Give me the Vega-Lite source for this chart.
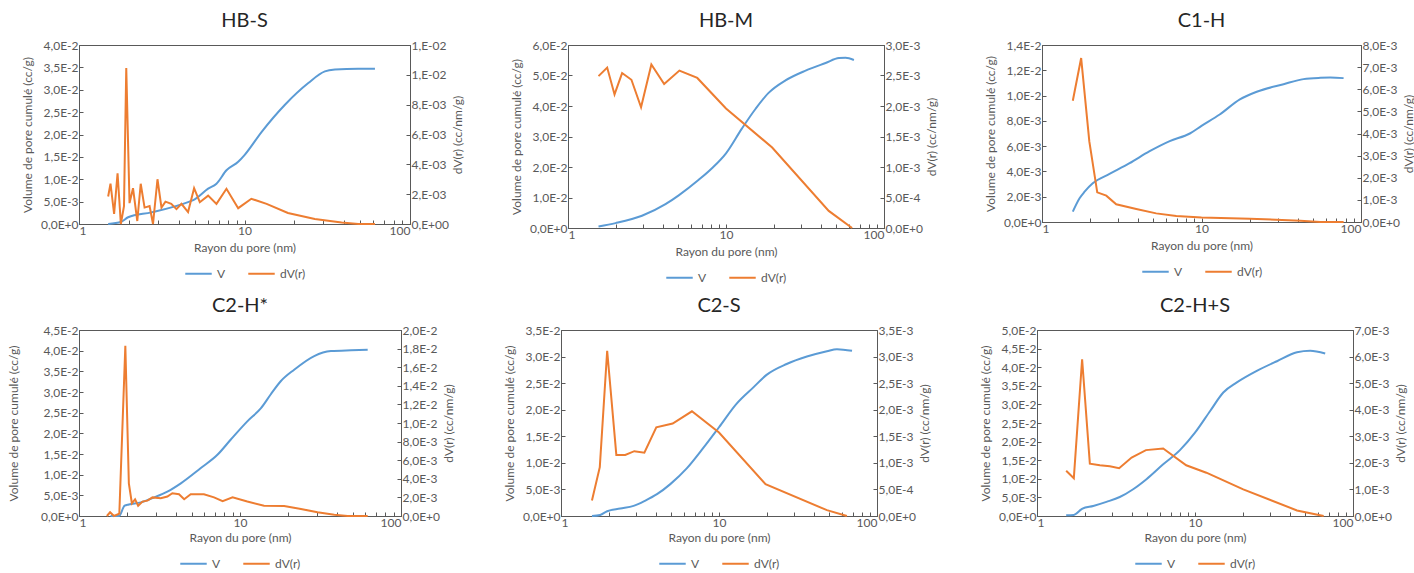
{
  "$schema": "https://vega.github.io/schema/vega-lite/v6.json",
  "background": "white",
  "padding": {"left": 6, "top": 10, "right": 0, "bottom": 2},
  "datasets": {
    "d": [
      {"p":"HB-S","k":"V","r":1.5,"y":0},{"p":"HB-S","k":"V","r":1.8,"y":0.0005},{"p":"HB-S","k":"V","r":1.98,"y":0.0015},{"p":"HB-S","k":"V","r":2.74,"y":0.0026},{"p":"HB-S","k":"V","r":4.56,"y":0.0049},{"p":"HB-S","k":"V","r":5.0,"y":0.0055},{"p":"HB-S","k":"V","r":6.03,"y":0.0079},{"p":"HB-S","k":"V","r":6.77,"y":0.009},{"p":"HB-S","k":"V","r":7.78,"y":0.012},{"p":"HB-S","k":"V","r":9.16,"y":0.0139},{"p":"HB-S","k":"V","r":10,"y":0.0154},{"p":"HB-S","k":"V","r":12.7,"y":0.0206},{"p":"HB-S","k":"V","r":17.5,"y":0.0266},{"p":"HB-S","k":"V","r":24.3,"y":0.0315},{"p":"HB-S","k":"V","r":30.6,"y":0.0341},{"p":"HB-S","k":"V","r":35.2,"y":0.0345},{"p":"HB-S","k":"V","r":48.7,"y":0.0347},{"p":"HB-S","k":"V","r":61.4,"y":0.0347},
      {"p":"HB-S","k":"dV(r)","r":1.5,"y":0.00184},{"p":"HB-S","k":"dV(r)","r":1.55,"y":0.0027},{"p":"HB-S","k":"dV(r)","r":1.63,"y":0.00067},{"p":"HB-S","k":"dV(r)","r":1.71,"y":0.0034},{"p":"HB-S","k":"dV(r)","r":1.79,"y":0},{"p":"HB-S","k":"dV(r)","r":1.87,"y":0.0012},{"p":"HB-S","k":"dV(r)","r":1.93,"y":0.01045},{"p":"HB-S","k":"dV(r)","r":2.02,"y":0.0014},{"p":"HB-S","k":"dV(r)","r":2.12,"y":0.0024},{"p":"HB-S","k":"dV(r)","r":2.25,"y":0.0002},{"p":"HB-S","k":"dV(r)","r":2.36,"y":0.0027},{"p":"HB-S","k":"dV(r)","r":2.49,"y":0.0011},{"p":"HB-S","k":"dV(r)","r":2.67,"y":0.0012},{"p":"HB-S","k":"dV(r)","r":2.8,"y":0},{"p":"HB-S","k":"dV(r)","r":2.98,"y":0.003},{"p":"HB-S","k":"dV(r)","r":3.15,"y":0.0011},{"p":"HB-S","k":"dV(r)","r":3.33,"y":0.0015},{"p":"HB-S","k":"dV(r)","r":3.61,"y":0.00135},{"p":"HB-S","k":"dV(r)","r":3.88,"y":0.001},{"p":"HB-S","k":"dV(r)","r":4.16,"y":0.00135},{"p":"HB-S","k":"dV(r)","r":4.56,"y":0.0008},{"p":"HB-S","k":"dV(r)","r":4.96,"y":0.0024},{"p":"HB-S","k":"dV(r)","r":5.37,"y":0.00146},{"p":"HB-S","k":"dV(r)","r":6.03,"y":0.0019},{"p":"HB-S","k":"dV(r)","r":6.77,"y":0.00135},{"p":"HB-S","k":"dV(r)","r":7.78,"y":0.00236},{"p":"HB-S","k":"dV(r)","r":9.16,"y":0.00106},{"p":"HB-S","k":"dV(r)","r":11.0,"y":0.00169},{"p":"HB-S","k":"dV(r)","r":13.6,"y":0.00135},{"p":"HB-S","k":"dV(r)","r":18.3,"y":0.00074},{"p":"HB-S","k":"dV(r)","r":26.6,"y":0.00034},{"p":"HB-S","k":"dV(r)","r":38.6,"y":0.0001},{"p":"HB-S","k":"dV(r)","r":48.7,"y":0},{"p":"HB-S","k":"dV(r)","r":61.4,"y":0},

      {"p":"HB-M","k":"V","r":1.56,"y":0.0005},{"p":"HB-M","k":"V","r":2.0,"y":0.0016},{"p":"HB-M","k":"V","r":2.94,"y":0.004},{"p":"HB-M","k":"V","r":4.14,"y":0.0078},{"p":"HB-M","k":"V","r":5.02,"y":0.0107},{"p":"HB-M","k":"V","r":6.72,"y":0.0158},{"p":"HB-M","k":"V","r":8.15,"y":0.0196},{"p":"HB-M","k":"V","r":10,"y":0.0245},{"p":"HB-M","k":"V","r":12.6,"y":0.0326},{"p":"HB-M","k":"V","r":15.4,"y":0.0391},{"p":"HB-M","k":"V","r":18.6,"y":0.0443},{"p":"HB-M","k":"V","r":23.8,"y":0.0484},{"p":"HB-M","k":"V","r":31.9,"y":0.0516},{"p":"HB-M","k":"V","r":42.7,"y":0.0541},{"p":"HB-M","k":"V","r":51.9,"y":0.0557},{"p":"HB-M","k":"V","r":57.1,"y":0.0558},{"p":"HB-M","k":"V","r":64.5,"y":0.0551},
      {"p":"HB-M","k":"dV(r)","r":1.56,"y":0.00249},{"p":"HB-M","k":"dV(r)","r":1.77,"y":0.00263},{"p":"HB-M","k":"dV(r)","r":1.97,"y":0.00219},{"p":"HB-M","k":"dV(r)","r":2.2,"y":0.00254},{"p":"HB-M","k":"dV(r)","r":2.52,"y":0.00243},{"p":"HB-M","k":"dV(r)","r":2.9,"y":0.00198},{"p":"HB-M","k":"dV(r)","r":3.37,"y":0.00268},{"p":"HB-M","k":"dV(r)","r":4.06,"y":0.00236},{"p":"HB-M","k":"dV(r)","r":5.07,"y":0.00258},{"p":"HB-M","k":"dV(r)","r":6.58,"y":0.00246},{"p":"HB-M","k":"dV(r)","r":10,"y":0.00196},{"p":"HB-M","k":"dV(r)","r":19.6,"y":0.00132},{"p":"HB-M","k":"dV(r)","r":44.7,"y":0.00028},{"p":"HB-M","k":"dV(r)","r":62.8,"y":0},

      {"p":"C1-H","k":"V","r":1.56,"y":0.00082},{"p":"C1-H","k":"V","r":1.72,"y":0.00188},{"p":"C1-H","k":"V","r":1.85,"y":0.0024},{"p":"C1-H","k":"V","r":2.08,"y":0.00306},{"p":"C1-H","k":"V","r":2.65,"y":0.0038},{"p":"C1-H","k":"V","r":3.54,"y":0.00465},{"p":"C1-H","k":"V","r":4.73,"y":0.0056},{"p":"C1-H","k":"V","r":6.32,"y":0.0064},{"p":"C1-H","k":"V","r":8.45,"y":0.007},{"p":"C1-H","k":"V","r":10,"y":0.0076},{"p":"C1-H","k":"V","r":13.0,"y":0.0085},{"p":"C1-H","k":"V","r":17.4,"y":0.0097},{"p":"C1-H","k":"V","r":22.2,"y":0.0103},{"p":"C1-H","k":"V","r":32.7,"y":0.0109},{"p":"C1-H","k":"V","r":43.6,"y":0.0113},{"p":"C1-H","k":"V","r":55.5,"y":0.0114},{"p":"C1-H","k":"V","r":64.1,"y":0.01142},{"p":"C1-H","k":"V","r":77.8,"y":0.01138},
      {"p":"C1-H","k":"dV(r)","r":1.56,"y":0.00548},{"p":"C1-H","k":"dV(r)","r":1.76,"y":0.00741},{"p":"C1-H","k":"dV(r)","r":1.98,"y":0.00364},{"p":"C1-H","k":"dV(r)","r":2.22,"y":0.00134},{"p":"C1-H","k":"dV(r)","r":2.53,"y":0.00119},{"p":"C1-H","k":"dV(r)","r":2.92,"y":0.0008},{"p":"C1-H","k":"dV(r)","r":3.9,"y":0.00059},{"p":"C1-H","k":"dV(r)","r":5.2,"y":0.00039},{"p":"C1-H","k":"dV(r)","r":6.95,"y":0.00027},{"p":"C1-H","k":"dV(r)","r":10,"y":0.0002},{"p":"C1-H","k":"dV(r)","r":20.1,"y":0.00015},{"p":"C1-H","k":"dV(r)","r":41.6,"y":0.00006},{"p":"C1-H","k":"dV(r)","r":55.5,"y":0},{"p":"C1-H","k":"dV(r)","r":77.8,"y":0},

      {"p":"C2-H*","k":"V","r":1.57,"y":0},{"p":"C2-H*","k":"V","r":1.77,"y":0},{"p":"C2-H*","k":"V","r":1.92,"y":0.0025},{"p":"C2-H*","k":"V","r":2.04,"y":0.0028},{"p":"C2-H*","k":"V","r":2.42,"y":0.0033},{"p":"C2-H*","k":"V","r":2.93,"y":0.0045},{"p":"C2-H*","k":"V","r":3.54,"y":0.0059},{"p":"C2-H*","k":"V","r":4.29,"y":0.0079},{"p":"C2-H*","k":"V","r":5.71,"y":0.0116},{"p":"C2-H*","k":"V","r":7.24,"y":0.0148},{"p":"C2-H*","k":"V","r":8.77,"y":0.0185},{"p":"C2-H*","k":"V","r":11.1,"y":0.0229},{"p":"C2-H*","k":"V","r":13.5,"y":0.0261},{"p":"C2-H*","k":"V","r":15.5,"y":0.0294},{"p":"C2-H*","k":"V","r":17.9,"y":0.0326},{"p":"C2-H*","k":"V","r":21.7,"y":0.0354},{"p":"C2-H*","k":"V","r":28.9,"y":0.0387},{"p":"C2-H*","k":"V","r":36.7,"y":0.0399},{"p":"C2-H*","k":"V","r":48.9,"y":0.0401},{"p":"C2-H*","k":"V","r":62.1,"y":0.0402},
      {"p":"C2-H*","k":"dV(r)","r":1.49,"y":0},{"p":"C2-H*","k":"dV(r)","r":1.56,"y":0.0004},{"p":"C2-H*","k":"dV(r)","r":1.65,"y":0},{"p":"C2-H*","k":"dV(r)","r":1.78,"y":0.00025},{"p":"C2-H*","k":"dV(r)","r":1.94,"y":0.0183},{"p":"C2-H*","k":"dV(r)","r":2.04,"y":0.0035},{"p":"C2-H*","k":"dV(r)","r":2.13,"y":0.00137},{"p":"C2-H*","k":"dV(r)","r":2.23,"y":0.0018},{"p":"C2-H*","k":"dV(r)","r":2.33,"y":0.0011},{"p":"C2-H*","k":"dV(r)","r":2.48,"y":0.00155},{"p":"C2-H*","k":"dV(r)","r":2.66,"y":0.00165},{"p":"C2-H*","k":"dV(r)","r":2.86,"y":0.002},{"p":"C2-H*","k":"dV(r)","r":3.22,"y":0.0019},{"p":"C2-H*","k":"dV(r)","r":3.54,"y":0.0021},{"p":"C2-H*","k":"dV(r)","r":3.8,"y":0.00245},{"p":"C2-H*","k":"dV(r)","r":4.18,"y":0.00234},{"p":"C2-H*","k":"dV(r)","r":4.5,"y":0.0018},{"p":"C2-H*","k":"dV(r)","r":4.94,"y":0.00234},{"p":"C2-H*","k":"dV(r)","r":5.97,"y":0.00234},{"p":"C2-H*","k":"dV(r)","r":6.9,"y":0.002},{"p":"C2-H*","k":"dV(r)","r":7.8,"y":0.0016},{"p":"C2-H*","k":"dV(r)","r":8.99,"y":0.002},{"p":"C2-H*","k":"dV(r)","r":11.1,"y":0.00155},{"p":"C2-H*","k":"dV(r)","r":14.1,"y":0.0011},{"p":"C2-H*","k":"dV(r)","r":18.8,"y":0.00108},{"p":"C2-H*","k":"dV(r)","r":23.9,"y":0.00076},{"p":"C2-H*","k":"dV(r)","r":30.3,"y":0.0004},{"p":"C2-H*","k":"dV(r)","r":38.5,"y":0.00014},{"p":"C2-H*","k":"dV(r)","r":46.6,"y":0},{"p":"C2-H*","k":"dV(r)","r":62.1,"y":0},

      {"p":"C2-S","k":"V","r":1.57,"y":0},{"p":"C2-S","k":"V","r":1.77,"y":0.0002},{"p":"C2-S","k":"V","r":1.96,"y":0.0009},{"p":"C2-S","k":"V","r":2.37,"y":0.0014},{"p":"C2-S","k":"V","r":2.88,"y":0.0019},{"p":"C2-S","k":"V","r":3.42,"y":0.0029},{"p":"C2-S","k":"V","r":4.05,"y":0.0041},{"p":"C2-S","k":"V","r":4.92,"y":0.006},{"p":"C2-S","k":"V","r":6.27,"y":0.009},{"p":"C2-S","k":"V","r":8.0,"y":0.0129},{"p":"C2-S","k":"V","r":10,"y":0.0167},{"p":"C2-S","k":"V","r":12.9,"y":0.0211},{"p":"C2-S","k":"V","r":16.5,"y":0.0242},{"p":"C2-S","k":"V","r":20.1,"y":0.0266},{"p":"C2-S","k":"V","r":26.8,"y":0.0286},{"p":"C2-S","k":"V","r":36.0,"y":0.03},{"p":"C2-S","k":"V","r":48.2,"y":0.031},{"p":"C2-S","k":"V","r":55.8,"y":0.0314},{"p":"C2-S","k":"V","r":69.5,"y":0.0311},
      {"p":"C2-S","k":"dV(r)","r":1.57,"y":0.00029},{"p":"C2-S","k":"dV(r)","r":1.76,"y":0.00092},{"p":"C2-S","k":"dV(r)","r":1.96,"y":0.00311},{"p":"C2-S","k":"dV(r)","r":2.24,"y":0.00115},{"p":"C2-S","k":"dV(r)","r":2.55,"y":0.00115},{"p":"C2-S","k":"dV(r)","r":2.91,"y":0.00122},{"p":"C2-S","k":"dV(r)","r":3.37,"y":0.00119},{"p":"C2-S","k":"dV(r)","r":4.01,"y":0.00167},{"p":"C2-S","k":"dV(r)","r":5.09,"y":0.00174},{"p":"C2-S","k":"dV(r)","r":6.74,"y":0.00197},{"p":"C2-S","k":"dV(r)","r":10,"y":0.00157},{"p":"C2-S","k":"dV(r)","r":19.7,"y":0.0006},{"p":"C2-S","k":"dV(r)","r":48.2,"y":0.00011},{"p":"C2-S","k":"dV(r)","r":64.5,"y":0},

      {"p":"C2-H+S","k":"V","r":1.53,"y":0.0002},{"p":"C2-H+S","k":"V","r":1.71,"y":0.0003},{"p":"C2-H+S","k":"V","r":1.94,"y":0.002},{"p":"C2-H+S","k":"V","r":2.27,"y":0.0027},{"p":"C2-H+S","k":"V","r":2.75,"y":0.0038},{"p":"C2-H+S","k":"V","r":3.34,"y":0.0051},{"p":"C2-H+S","k":"V","r":4.06,"y":0.0072},{"p":"C2-H+S","k":"V","r":4.93,"y":0.0099},{"p":"C2-H+S","k":"V","r":6.29,"y":0.0139},{"p":"C2-H+S","k":"V","r":8.03,"y":0.0177},{"p":"C2-H+S","k":"V","r":10,"y":0.0224},{"p":"C2-H+S","k":"V","r":12.5,"y":0.0283},{"p":"C2-H+S","k":"V","r":15.1,"y":0.0332},{"p":"C2-H+S","k":"V","r":18.4,"y":0.0359},{"p":"C2-H+S","k":"V","r":24.6,"y":0.039},{"p":"C2-H+S","k":"V","r":33.0,"y":0.0416},{"p":"C2-H+S","k":"V","r":44.2,"y":0.044},{"p":"C2-H+S","k":"V","r":53.6,"y":0.0444},{"p":"C2-H+S","k":"V","r":66.7,"y":0.0437},
      {"p":"C2-H+S","k":"dV(r)","r":1.53,"y":0.0017},{"p":"C2-H+S","k":"dV(r)","r":1.71,"y":0.00142},{"p":"C2-H+S","k":"dV(r)","r":1.93,"y":0.0059},{"p":"C2-H+S","k":"dV(r)","r":2.16,"y":0.00197},{"p":"C2-H+S","k":"dV(r)","r":2.5,"y":0.00191},{"p":"C2-H+S","k":"dV(r)","r":2.89,"y":0.00187},{"p":"C2-H+S","k":"dV(r)","r":3.31,"y":0.0018},{"p":"C2-H+S","k":"dV(r)","r":3.97,"y":0.0022},{"p":"C2-H+S","k":"dV(r)","r":4.89,"y":0.00248},{"p":"C2-H+S","k":"dV(r)","r":6.29,"y":0.00254},{"p":"C2-H+S","k":"dV(r)","r":8.8,"y":0.00191},{"p":"C2-H+S","k":"dV(r)","r":11.8,"y":0.00163},{"p":"C2-H+S","k":"dV(r)","r":20.2,"y":0.001},{"p":"C2-H+S","k":"dV(r)","r":44.2,"y":0.00021},{"p":"C2-H+S","k":"dV(r)","r":65.2,"y":0}
    ]
  },
  "data": {"name": "d"},
  "vconcat": [
    {
      "hconcat": [
        {
          "title": {"text": "HB-S"},
          "width": 331, "height": 179,
          "layer": [
            {"transform": [{"filter": "datum.p=='HB-S' && datum.k=='V'"}], "mark": {"type": "line", "interpolate": "monotone", "strokeWidth": 2},
             "encoding": {"x": {"field": "r", "type": "quantitative", "scale": {"type": "log", "domain": [1, 100]}, "axis": {"title": "Rayon du pore (nm)", "values": [1,2,3,4,5,6,7,8,9,10,20,30,40,50,60,70,80,90,100], "labelExpr": "indexof([1,10,100], datum.value) >= 0 ? toString(datum.value) : ''"}},
              "y": {"field": "y", "type": "quantitative", "scale": {"domain": [0, 0.04]}, "axis": {"orient": "left", "title": "Volume de pore cumulé (cc/g)", "values": [0,0.005,0.01,0.015,0.02,0.025,0.03,0.035,0.04], "labelExpr": "replace(replace(format(datum.value,'.1e'),'.',','),'e','E')"}},
              "color": {"field": "k", "type": "nominal", "scale": {"domain": ["V", "dV(r)"], "range": ["#5B9BD5", "#ED7D31"]}, "legend": {"orient": "bottom", "title": null}}}},
            {"transform": [{"filter": "datum.p=='HB-S' && datum.k=='dV(r)'"}], "mark": {"type": "line", "strokeWidth": 2},
             "encoding": {"x": {"field": "r", "type": "quantitative"},
              "y": {"field": "y", "type": "quantitative", "scale": {"domain": [0, 0.012]}, "axis": {"orient": "right", "titleAngle": 270, "titleBaseline": "top", "titlePadding": 4, "title": "dV(r) (cc/nm/g)", "values": [0,0.002,0.004,0.006,0.008,0.01,0.012], "labelExpr": "replace(replace(replace(format(datum.value,'.0e'),'e-','e-0'),'e+','e+0'),'e',',E')"}},
              "color": {"field": "k", "type": "nominal"}}}
          ],
          "resolve": {"scale": {"y": "independent"}}
        },
        {
          "title": {"text": "HB-M"},
          "width": 316, "height": 183,
          "layer": [
            {"transform": [{"filter": "datum.p=='HB-M' && datum.k=='V'"}], "mark": {"type": "line", "interpolate": "monotone", "strokeWidth": 2},
             "encoding": {"x": {"field": "r", "type": "quantitative", "scale": {"type": "log", "domain": [1, 100]}, "axis": {"title": "Rayon du pore (nm)", "values": [1,2,3,4,5,6,7,8,9,10,20,30,40,50,60,70,80,90,100], "labelExpr": "indexof([1,10,100], datum.value) >= 0 ? toString(datum.value) : ''"}},
              "y": {"field": "y", "type": "quantitative", "scale": {"domain": [0, 0.06]}, "axis": {"orient": "left", "title": "Volume de pore cumulé (cc/g)", "values": [0,0.01,0.02,0.03,0.04,0.05,0.06], "labelExpr": "replace(replace(format(datum.value,'.1e'),'.',','),'e','E')"}},
              "color": {"field": "k", "type": "nominal", "scale": {"domain": ["V", "dV(r)"], "range": ["#5B9BD5", "#ED7D31"]}, "legend": {"orient": "bottom", "title": null}}}},
            {"transform": [{"filter": "datum.p=='HB-M' && datum.k=='dV(r)'"}], "mark": {"type": "line", "strokeWidth": 2},
             "encoding": {"x": {"field": "r", "type": "quantitative"},
              "y": {"field": "y", "type": "quantitative", "scale": {"domain": [0, 0.003]}, "axis": {"orient": "right", "titleAngle": 270, "titleBaseline": "top", "titlePadding": 4, "title": "dV(r) (cc/nm/g)", "values": [0,0.0005,0.001,0.0015,0.002,0.0025,0.003], "labelExpr": "replace(replace(format(datum.value,'.1e'),'.',','),'e','E')"}},
              "color": {"field": "k", "type": "nominal"}}}
          ],
          "resolve": {"scale": {"y": "independent"}}
        },
        {
          "title": {"text": "C1-H"},
          "width": 319, "height": 177,
          "layer": [
            {"transform": [{"filter": "datum.p=='C1-H' && datum.k=='V'"}], "mark": {"type": "line", "interpolate": "monotone", "strokeWidth": 2},
             "encoding": {"x": {"field": "r", "type": "quantitative", "scale": {"type": "log", "domain": [1, 100]}, "axis": {"title": "Rayon du pore (nm)", "values": [1,2,3,4,5,6,7,8,9,10,20,30,40,50,60,70,80,90,100], "labelExpr": "indexof([1,10,100], datum.value) >= 0 ? toString(datum.value) : ''"}},
              "y": {"field": "y", "type": "quantitative", "scale": {"domain": [0, 0.014]}, "axis": {"orient": "left", "title": "Volume de pore cumulé (cc/g)", "values": [0,0.002,0.004,0.006,0.008,0.01,0.012,0.014], "labelExpr": "replace(replace(format(datum.value,'.1e'),'.',','),'e','E')"}},
              "color": {"field": "k", "type": "nominal", "scale": {"domain": ["V", "dV(r)"], "range": ["#5B9BD5", "#ED7D31"]}, "legend": {"orient": "bottom", "title": null}}}},
            {"transform": [{"filter": "datum.p=='C1-H' && datum.k=='dV(r)'"}], "mark": {"type": "line", "strokeWidth": 2},
             "encoding": {"x": {"field": "r", "type": "quantitative"},
              "y": {"field": "y", "type": "quantitative", "scale": {"domain": [0, 0.008]}, "axis": {"orient": "right", "titleAngle": 270, "titleBaseline": "top", "titlePadding": 4, "title": "dV(r) (cc/nm/g)", "values": [0,0.001,0.002,0.003,0.004,0.005,0.006,0.007,0.008], "labelExpr": "replace(replace(format(datum.value,'.1e'),'.',','),'e','E')"}},
              "color": {"field": "k", "type": "nominal"}}}
          ],
          "resolve": {"scale": {"y": "independent"}}
        }
      ],
      "spacing": 46,
      "resolve": {"legend": {"color": "independent"}}
    },
    {
      "hconcat": [
        {
          "title": {"text": "C2-H*"},
          "width": 322, "height": 186,
          "layer": [
            {"transform": [{"filter": "datum.p=='C2-H*' && datum.k=='V'"}], "mark": {"type": "line", "interpolate": "monotone", "strokeWidth": 2},
             "encoding": {"x": {"field": "r", "type": "quantitative", "scale": {"type": "log", "domain": [1, 100]}, "axis": {"title": "Rayon du pore (nm)", "titlePadding": 4, "values": [1,2,3,4,5,6,7,8,9,10,20,30,40,50,60,70,80,90,100], "labelExpr": "indexof([1,10,100], datum.value) >= 0 ? toString(datum.value) : ''"}},
              "y": {"field": "y", "type": "quantitative", "scale": {"domain": [0, 0.045]}, "axis": {"orient": "left", "minExtent": 53, "title": "Volume de pore cumulé (cc/g)", "values": [0,0.005,0.01,0.015,0.02,0.025,0.03,0.035,0.04,0.045], "labelExpr": "replace(replace(format(datum.value,'.1e'),'.',','),'e','E')"}},
              "color": {"field": "k", "type": "nominal", "scale": {"domain": ["V", "dV(r)"], "range": ["#5B9BD5", "#ED7D31"]}, "legend": {"orient": "bottom", "title": null}}}},
            {"transform": [{"filter": "datum.p=='C2-H*' && datum.k=='dV(r)'"}], "mark": {"type": "line", "strokeWidth": 2},
             "encoding": {"x": {"field": "r", "type": "quantitative"},
              "y": {"field": "y", "type": "quantitative", "scale": {"domain": [0, 0.02]}, "axis": {"orient": "right", "titleAngle": 270, "titleBaseline": "top", "titlePadding": 4, "title": "dV(r) (cc/nm/g)", "values": [0,0.002,0.004,0.006,0.008,0.01,0.012,0.014,0.016,0.018,0.02], "labelExpr": "replace(replace(format(datum.value,'.1e'),'.',','),'e','E')"}},
              "color": {"field": "k", "type": "nominal"}}}
          ],
          "resolve": {"scale": {"y": "independent"}}
        },
        {
          "title": {"text": "C2-S"},
          "width": 316, "height": 186,
          "layer": [
            {"transform": [{"filter": "datum.p=='C2-S' && datum.k=='V'"}], "mark": {"type": "line", "interpolate": "monotone", "strokeWidth": 2},
             "encoding": {"x": {"field": "r", "type": "quantitative", "scale": {"type": "log", "domain": [1, 100]}, "axis": {"title": "Rayon du pore (nm)", "titlePadding": 4, "values": [1,2,3,4,5,6,7,8,9,10,20,30,40,50,60,70,80,90,100], "labelExpr": "indexof([1,10,100], datum.value) >= 0 ? toString(datum.value) : ''"}},
              "y": {"field": "y", "type": "quantitative", "scale": {"domain": [0, 0.035]}, "axis": {"orient": "left", "title": "Volume de pore cumulé (cc/g)", "values": [0,0.005,0.01,0.015,0.02,0.025,0.03,0.035], "labelExpr": "replace(replace(format(datum.value,'.1e'),'.',','),'e','E')"}},
              "color": {"field": "k", "type": "nominal", "scale": {"domain": ["V", "dV(r)"], "range": ["#5B9BD5", "#ED7D31"]}, "legend": {"orient": "bottom", "title": null}}}},
            {"transform": [{"filter": "datum.p=='C2-S' && datum.k=='dV(r)'"}], "mark": {"type": "line", "strokeWidth": 2},
             "encoding": {"x": {"field": "r", "type": "quantitative"},
              "y": {"field": "y", "type": "quantitative", "scale": {"domain": [0, 0.0035]}, "axis": {"orient": "right", "titleAngle": 270, "titleBaseline": "top", "titlePadding": 4, "title": "dV(r) (cc/nm/g)", "values": [0,0.0005,0.001,0.0015,0.002,0.0025,0.003,0.0035], "labelExpr": "replace(replace(format(datum.value,'.1e'),'.',','),'e','E')"}},
              "color": {"field": "k", "type": "nominal"}}}
          ],
          "resolve": {"scale": {"y": "independent"}}
        },
        {
          "title": {"text": "C2-H+S"},
          "width": 316, "height": 186,
          "layer": [
            {"transform": [{"filter": "datum.p=='C2-H+S' && datum.k=='V'"}], "mark": {"type": "line", "interpolate": "monotone", "strokeWidth": 2},
             "encoding": {"x": {"field": "r", "type": "quantitative", "scale": {"type": "log", "domain": [1, 100]}, "axis": {"title": "Rayon du pore (nm)", "titlePadding": 4, "values": [1,2,3,4,5,6,7,8,9,10,20,30,40,50,60,70,80,90,100], "labelExpr": "indexof([1,10,100], datum.value) >= 0 ? toString(datum.value) : ''"}},
              "y": {"field": "y", "type": "quantitative", "scale": {"domain": [0, 0.05]}, "axis": {"orient": "left", "title": "Volume de pore cumulé (cc/g)", "values": [0,0.005,0.01,0.015,0.02,0.025,0.03,0.035,0.04,0.045,0.05], "labelExpr": "replace(replace(format(datum.value,'.1e'),'.',','),'e','E')"}},
              "color": {"field": "k", "type": "nominal", "scale": {"domain": ["V", "dV(r)"], "range": ["#5B9BD5", "#ED7D31"]}, "legend": {"orient": "bottom", "title": null}}}},
            {"transform": [{"filter": "datum.p=='C2-H+S' && datum.k=='dV(r)'"}], "mark": {"type": "line", "strokeWidth": 2},
             "encoding": {"x": {"field": "r", "type": "quantitative"},
              "y": {"field": "y", "type": "quantitative", "scale": {"domain": [0, 0.007]}, "axis": {"orient": "right", "titleAngle": 270, "titleBaseline": "top", "titlePadding": 4, "title": "dV(r) (cc/nm/g)", "values": [0,0.001,0.002,0.003,0.004,0.005,0.006,0.007], "labelExpr": "replace(replace(format(datum.value,'.1e'),'.',','),'e','E')"}},
              "color": {"field": "k", "type": "nominal"}}}
          ],
          "resolve": {"scale": {"y": "independent"}}
        }
      ],
      "spacing": 48,
      "resolve": {"legend": {"color": "independent"}}
    }
  ],
  "spacing": 10,
  "resolve": {"legend": {"color": "independent"}},
  "config": {
    "font": "Lato",
    "view": {"stroke": "#595959", "strokeWidth": 1},
    "title": {"fontSize": 20, "fontWeight": "normal", "color": "#262626", "font": "Lato", "frame": "group", "anchor": "middle", "offset": 8},
    "axis": {"grid": false, "labelFont": "Lato", "labelFontSize": 12, "labelColor": "#595959", "titleFont": "Lato", "titleFontSize": 12, "titleColor": "#595959", "titleFontWeight": "normal", "tickColor": "#595959", "domainColor": "#595959", "tickSize": -4, "labelPadding": 5, "titlePadding": 6},
    "legend": {"labelFont": "Lato", "labelFontSize": 12, "labelColor": "#595959", "symbolType": "stroke", "symbolStrokeWidth": 2, "symbolSize": 700, "columnPadding": 18, "offset": 6, "direction": "horizontal", "layout": {"bottom": {"anchor": "middle"}}}
  }
}
